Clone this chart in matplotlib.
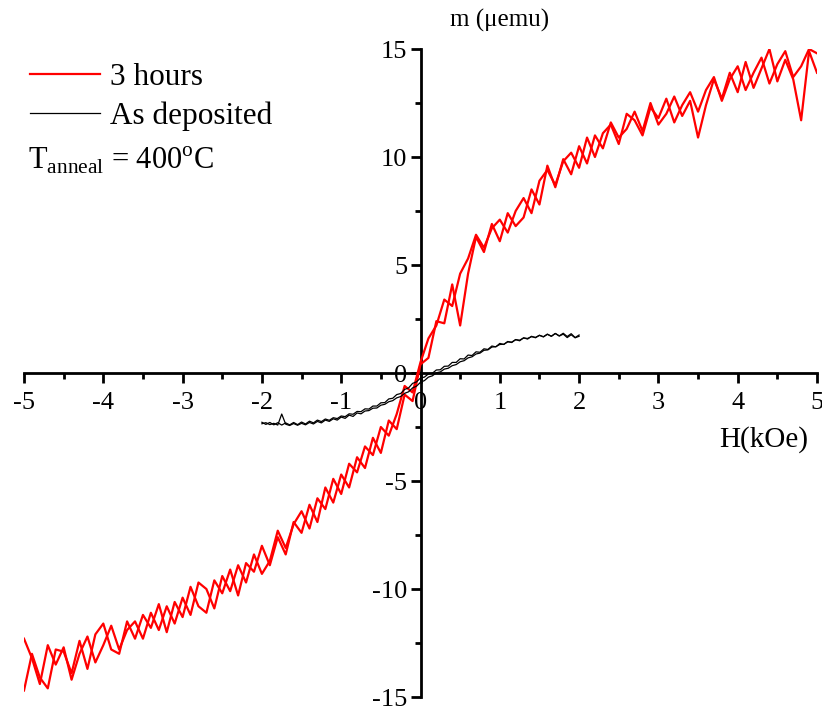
import numpy as np
import matplotlib
matplotlib.use("Agg")
import matplotlib.pyplot as plt

plt.rcParams['font.family'] = ['Liberation Serif', 'DejaVu Serif']
plt.rcParams['mathtext.fontset'] = 'custom'
plt.rcParams['mathtext.rm'] = 'Liberation Serif'
plt.rcParams['axes.unicode_minus'] = False

# red loop, 3 hours anneal: field grid in kOe, moment in uemu
field_red = np.linspace(-5.0, 5.0, 101)
m_red_up = [
    -14.7, -13.0, -14.1, -14.6, -12.8, -12.9, -13.9, -12.4, -13.7, -12.1,
    -11.6, -12.8, -13.0, -11.5, -12.3, -11.2, -11.8, -10.7, -12.0, -10.6,
    -11.3, -9.9, -10.8, -11.1, -9.6, -10.2, -9.1, -10.3, -8.8, -9.2,
    -8.0, -8.9, -7.6, -8.4, -6.9, -7.4, -6.1, -6.9, -5.3, -6.0,
    -4.7, -5.3, -3.9, -4.4, -3.0, -3.7, -2.2, -2.6, -1.0, -1.3,
    0.4, 0.7, 2.4, 2.3, 4.1, 2.2, 4.6, 6.3, 5.6, 6.9,
    6.1, 7.4, 6.8, 7.2, 8.5, 7.8, 9.6, 8.6, 9.9, 9.2,
    10.5, 9.7, 11.0, 10.4, 11.6, 10.9, 11.3, 12.1, 11.2, 12.5,
    11.5, 12.0, 12.8, 11.9, 12.6, 10.9, 12.4, 13.6, 12.7, 13.9,
    13.0, 14.4, 13.2, 14.1, 15.0, 13.5, 14.5, 13.6, 11.7, 14.9,
    13.9,
]
# descending branch, listed from H = +5 down to H = -5
m_red_down = [
    14.8, 15.0, 14.2, 13.7, 14.9, 14.3, 13.4, 14.6, 13.9, 13.1,
    14.2, 13.6, 12.6, 13.7, 13.1, 12.1, 13.0, 12.4, 11.6, 12.7,
    11.8, 12.3, 11.0, 11.7, 12.0, 10.6, 11.5, 11.1, 10.0, 10.9,
    9.5, 10.2, 9.8, 8.7, 9.4, 8.9, 7.4, 8.1, 7.5, 6.5,
    7.1, 6.7, 5.8, 6.4, 5.3, 4.6, 3.1, 3.4, 2.2, 1.6,
    0.5, -0.9, -0.6, -1.9, -2.9, -2.5, -3.8, -3.4, -4.6, -4.2,
    -5.6, -4.9, -6.3, -5.8, -7.2, -6.4, -7.0, -8.1, -7.3, -8.7,
    -9.3, -8.4, -9.7, -8.9, -10.1, -9.4, -10.9, -10.0, -9.7, -11.2,
    -10.4, -11.6, -10.8, -11.9, -11.1, -12.3, -11.5, -11.9, -12.8, -11.7,
    -12.6, -13.4, -12.2, -13.0, -14.2, -12.7, -13.5, -12.6, -14.4, -13.2,
    -12.3,
]

# black loop, as deposited
field_black = np.linspace(-2.0, 2.0, 81)
m_black_up = [
    -2.35, -2.30, -2.39, -2.33, -2.41, -1.90, -2.37, -2.43, -2.34, -2.42,
    -2.33, -2.40, -2.29, -2.36, -2.24, -2.31, -2.18, -2.24, -2.12, -2.18,
    -2.04, -2.10, -1.95, -2.01, -1.85, -1.89, -1.76, -1.74, -1.63, -1.62,
    -1.49, -1.45, -1.33, -1.28, -1.15, -1.09, -0.94, -0.87, -0.69, -0.61,
    -0.43, -0.35, -0.19, -0.13, 0.01, 0.05, 0.18, 0.22, 0.34, 0.39,
    0.52, 0.57, 0.70, 0.75, 0.88, 0.92, 1.05, 1.07, 1.20, 1.22,
    1.32, 1.33, 1.44, 1.43, 1.54, 1.52, 1.62, 1.60, 1.68, 1.65,
    1.74, 1.68, 1.80, 1.70, 1.83, 1.71, 1.80, 1.64, 1.77, 1.63,
    1.70,
]
# descending branch, listed from H = +2 down to H = -2
m_black_down = [
    1.76, 1.64, 1.82, 1.69, 1.84, 1.72, 1.83, 1.70, 1.79, 1.67,
    1.75, 1.63, 1.70, 1.57, 1.63, 1.49, 1.55, 1.41, 1.46, 1.32,
    1.37, 1.21, 1.25, 1.09, 1.12, 0.96, 0.98, 0.81, 0.83, 0.65,
    0.66, 0.49, 0.49, 0.32, 0.31, 0.15, 0.14, -0.01, -0.04, -0.19,
    -0.23, -0.41, -0.48, -0.69, -0.76, -0.95, -1.00, -1.17, -1.20, -1.37,
    -1.38, -1.53, -1.53, -1.67, -1.66, -1.79, -1.78, -1.91, -1.89, -2.02,
    -1.99, -2.11, -2.07, -2.19, -2.13, -2.25, -2.18, -2.31, -2.23, -2.36,
    -2.27, -2.39, -2.29, -2.40, -2.31, -2.41, -2.30, -2.40, -2.29, -2.38,
    -2.28,
]

x_ticks = [-5, -4, -3, -2, -1, 0, 1, 2, 3, 4, 5]
y_ticks = [-15, -10, -5, 0, 5, 10, 15]

fig = plt.figure(figsize=(8.22, 7.06), dpi=100)
ax = fig.add_axes([24 / 822, 9 / 706, 793 / 822, 648 / 706])

red_line, = ax.plot(field_red, m_red_up, color='red', lw=1.6, label='3 hours')
ax.plot(field_red[::-1], m_red_down, color='red', lw=1.6)
black_line, = ax.plot(field_black, m_black_up, color='black', lw=0.9, label='As deposited')
ax.plot(field_black[::-1], m_black_down, color='black', lw=0.9)

ax.set_xlim(-5, 5)
ax.set_ylim(-15, 15)

# axes crossing at the origin
ax.spines['left'].set_position(('data', 0))
ax.spines['bottom'].set_position(('data', 0))
ax.spines['top'].set_visible(False)
ax.spines['right'].set_visible(False)
for s in ('left', 'bottom'):
    ax.spines[s].set_linewidth(2)
    ax.spines[s].set_zorder(1)

ax.set_xticks(x_ticks)
ax.set_xticks(np.arange(-4.5, 5, 1.0), minor=True)
ax.set_yticks(y_ticks)
ax.set_yticks(np.arange(-12.5, 15, 5.0), minor=True)
ax.set_xticklabels([str(t) for t in x_ticks])
ax.set_yticklabels([str(t) for t in y_ticks])
ax.tick_params(which='major', direction='out', length=7.5, width=2, labelsize=19)
ax.tick_params(which='minor', direction='out', length=4, width=2)
ax.tick_params(axis='x', which='major', pad=6)
ax.tick_params(axis='y', which='major', pad=2)

fig.text(500 / 822, 1 - 20 / 706, 'm (\u03bcemu)', fontsize=18, ha='center', va='center')
fig.text(764 / 822, 1 - 440 / 706, 'H(kOe)', fontsize=21, ha='center', va='center')

fig.legend(handles=[red_line, black_line], loc='upper left',
           bbox_to_anchor=(30 / 822, 1 - 63 / 706), frameon=False,
           fontsize=22.5, handlelength=2.25, handletextpad=0.32,
           labelspacing=0.31, borderpad=0, borderaxespad=0)
fig.text(28 / 822, 1 - 160 / 706,
         r'T$_{\mathregular{anneal}}$ = 400$^{\mathregular{o}}$C',
         fontsize=22, ha='left', va='center')

fig.savefig('out.png', dpi=100)
